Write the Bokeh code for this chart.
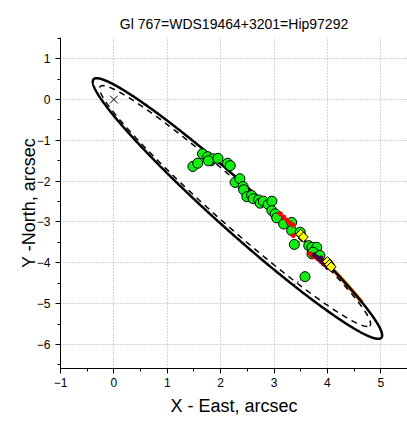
import numpy as np
from bokeh.plotting import figure
from bokeh.models import SingleIntervalTicker, Range1d
from bokeh.embed import file_html
from bokeh.resources import INLINE

title = "Gl 767=WDS19464+3201=Hip97292"

# Apparent orbits: centre, semi-axes (arcsec), position angle of major axis (deg)
orbit1_center = (2.315, -2.67)
orbit1_axes = (4.16, 0.48)
orbit1_angle = -49.8
orbit2_center = (2.27, -2.61)
orbit2_axes = (3.87, 0.42)
orbit2_angle = -49.4

# Green (visual) measures
green_x = [1.48, 1.57, 1.66, 1.76, 1.82, 1.85, 1.77, 1.95, 2.13, 2.18, 2.27, 2.36, 2.42,
           2.43, 2.49, 2.58, 2.61, 2.71, 2.74, 2.80, 2.89, 2.96, 2.96, 3.02, 3.05, 3.18,
           3.33, 3.33, 3.49, 3.38, 3.65, 3.71, 3.80, 3.71, 3.73, 3.86, 3.58]
green_y = [-1.64, -1.56, -1.33, -1.40, -1.50, -1.45, -1.50, -1.44, -1.56, -1.62, -2.03, -1.94, -2.13,
           -2.21, -2.38, -2.35, -2.43, -2.46, -2.54, -2.49, -2.57, -2.49, -2.72, -2.80, -2.90, -3.05,
           -3.01, -3.21, -3.25, -3.55, -3.58, -3.62, -3.62, -3.78, -3.74, -3.82, -4.34]

# Red measures
red_x = [3.12, 3.18, 3.24, 3.30, 3.36, 3.36, 3.68, 3.75, 3.82, 3.88, 3.92]
red_y = [-2.80, -2.88, -2.95, -3.02, -3.08, -3.33, -3.78, -3.85, -3.90, -3.97, -4.02]

# Dark measures
dark_x = [3.75, 3.80, 3.85, 3.90, 3.95, 4.00, 3.88, 3.97]
dark_y = [-3.80, -3.86, -3.92, -3.98, -4.05, -4.12, -3.88, -3.98]

# Yellow (speckle) measures
yellow_x = [3.50, 3.55, 4.00, 4.04, 4.07]
yellow_y = [-3.30, -3.37, -3.97, -4.04, -4.10]

# Orange arc (x extent along orbit 1)
orange_xlim = (4.0, 4.65)


def ellipse(center, axes, angle_deg, n=400):
    t = np.linspace(0, 2 * np.pi, n)
    th = np.radians(angle_deg)
    a, b = axes
    x = center[0] + a * np.cos(t) * np.cos(th) - b * np.sin(t) * np.sin(th)
    y = center[1] + a * np.cos(t) * np.sin(th) + b * np.sin(t) * np.cos(th)
    return t, x, y


t1, e1x, e1y = ellipse(orbit1_center, orbit1_axes, orbit1_angle, 1000)
_, e2x, e2y = ellipse(orbit2_center, orbit2_axes, orbit2_angle)

sel = (t1 > 0) & (t1 < np.pi) & (e1x >= orange_xlim[0]) & (e1x <= orange_xlim[1])
ox, oy = e1x[sel], e1y[sel]

# O-C segments to nearest point on orbit 1
oc_xs, oc_ys = [], []
for gx, gy in zip(green_x, green_y):
    d = (e1x - gx) ** 2 + (e1y - gy) ** 2
    k = int(np.argmin(d))
    oc_xs.append([gx, e1x[k]])
    oc_ys.append([gy, e1y[k]])

FONT = "Liberation Sans"

p = figure(width=407, height=423, output_backend="svg", toolbar_location=None,
           x_range=Range1d(-1, 5.5), y_range=Range1d(-6.59, 1.52),
           min_border_left=60, min_border_right=0, min_border_top=37, min_border_bottom=55)
p.outline_line_color = None
p.background_fill_color = "white"

p.title.text = title
p.title.align = "center"
p.title.text_font = FONT
p.title.text_font_size = "14px"
p.title.text_font_style = "normal"
p.title.text_color = "black"
p.title.standoff = 11

for ax in (p.xaxis[0], p.yaxis[0]):
    ax.axis_label_text_font = FONT
    ax.axis_label_text_font_size = "18px"
    ax.axis_label_text_font_style = "normal"
    ax.axis_label_text_color = "black"
    ax.major_label_text_font = FONT
    ax.major_label_text_font_size = "12px"
    ax.major_label_text_color = "black"
    ax.major_tick_in = 0
    ax.major_tick_out = 5
    ax.minor_tick_in = 0
    ax.minor_tick_out = 3
    ax.axis_line_color = "black"
    ax.major_tick_line_color = "black"
    ax.minor_tick_line_color = "black"

p.xaxis.ticker = SingleIntervalTicker(interval=1, num_minor_ticks=2)
p.yaxis.ticker = SingleIntervalTicker(interval=1, num_minor_ticks=2)
p.xaxis.axis_label = "X - East, arcsec"
p.yaxis.axis_label = "Y -North, arcsec"
p.xaxis.major_label_standoff = 4
p.xaxis.axis_label_standoff = 6
p.yaxis.major_label_standoff = 5
p.yaxis.axis_label_standoff = -5

for g in (p.xgrid[0], p.ygrid[0]):
    g.grid_line_color = "#a8a8a8"
    g.grid_line_dash = "1 2"
    g.grid_line_width = 1

p.line(ox, oy, line_color="#f08000", line_width=4)
p.line(e2x, e2y, line_color="black", line_width=1.5, line_dash="6 5")
p.line(e1x, e1y, line_color="black", line_width=2.5)
p.multi_line(oc_xs, oc_ys, line_color="black", line_width=1, line_dash="2 2")

p.scatter([0], [0], marker="x", size=11, line_color="black", line_width=1)

p.scatter(green_x, green_y, marker="circle", size=10, fill_color="#11f011",
          line_color="black", line_width=1)
p.scatter(red_x, red_y, marker="asterisk", size=5, line_color="#ff0000", line_width=1.5)
p.scatter(dark_x, dark_y, marker="circle", size=4, fill_color="#400040", line_color="#400040")
p.scatter(yellow_x, yellow_y, marker="square", size=7, angle=np.radians(45),
          fill_color="#ffff00", line_color="black", line_width=1)

open("out.html", "w").write(file_html(p, INLINE))
